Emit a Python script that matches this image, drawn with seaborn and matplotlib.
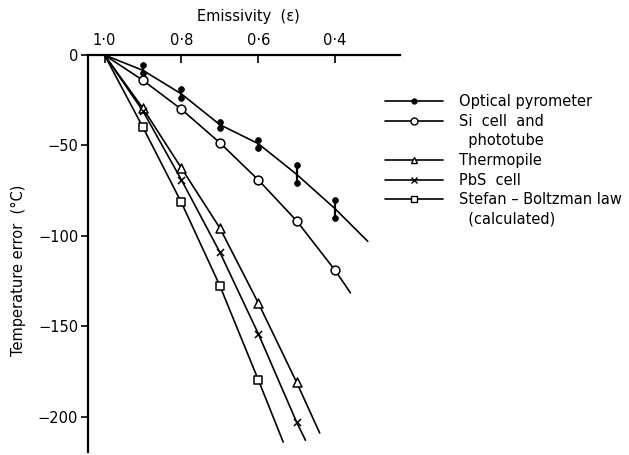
import matplotlib
matplotlib.use("Agg")
import matplotlib.pyplot as plt
import seaborn as sns
import pandas as pd
from matplotlib.lines import Line2D

# ---------------- data ----------------
# Optical pyrometer: measured ranges (pairs of dots) and fitted curve
opt_eps = [0.9, 0.8, 0.7, 0.6, 0.5, 0.4]
opt_high = [-5.5, -19, -37, -47, -61, -80]
opt_low = [-10, -24, -40.5, -51.5, -71, -90]
opt_curve_eps = [1.0, 0.9, 0.8, 0.7, 0.6, 0.5, 0.4, 0.315]
opt_curve = [0, -8.5, -21.5, -38.5, -49, -66, -85, -103]

# Si cell and phototube
si_eps = [0.9, 0.8, 0.7, 0.6, 0.5, 0.4]
si_vals = [-14, -30, -48.5, -69, -91.7, -119]
si_curve_eps = [1.0, 0.9, 0.8, 0.7, 0.6, 0.5, 0.4, 0.36]
si_curve = [0, -14, -30, -48.5, -69, -91.7, -119, -131.5]

# Thermopile
th_eps = [0.9, 0.8, 0.7, 0.6, 0.5]
th_vals = [-29.5, -62.5, -95.6, -137, -181]
th_curve_eps = [1.0, 0.9, 0.8, 0.7, 0.6, 0.5, 0.44]
th_curve = [0, -29.5, -62.5, -95.6, -137, -181, -209]

# PbS cell
pbs_eps = [0.9, 0.8, 0.7, 0.6, 0.5]
pbs_vals = [-31, -69, -109, -154, -203]
pbs_curve_eps = [1.0, 0.9, 0.8, 0.7, 0.6, 0.5, 0.477]
pbs_curve = [0, -31, -69, -109, -154, -203, -213]

# Stefan-Boltzmann law (calculated)
sb_eps = [0.9, 0.8, 0.7, 0.6]
sb_vals = [-40, -81.5, -127.5, -179.5]
sb_curve_eps = [1.0, 0.9, 0.8, 0.7, 0.6, 0.535]
sb_curve = [0, -40, -81.5, -127.5, -179.5, -214]

x_ticks = [1.0, 0.8, 0.6, 0.4]
x_tick_labels = ["1\u00b70", "0\u00b78", "0\u00b76", "0\u00b74"]
y_ticks = [0, -50, -100, -150, -200]
y_tick_labels = ["0", "\u221250", "\u2212100", "\u2212150", "\u2212200"]

# ---------------- figure ----------------
sns.set_style("ticks")
plt.rcParams["font.family"] = ["DejaVu Sans"]
plt.rcParams["text.color"] = "black"
plt.rcParams["axes.labelcolor"] = "black"

W, H = 629, 455
fig = plt.figure(figsize=(W / 100, H / 100), dpi=100)
ax = fig.add_axes([88 / W, 1 - 452 / H, (400 - 88) / W, (452 - 55) / H])

lw = 1.2
k = "black"

curves = [
    (opt_curve_eps, opt_curve),
    (si_curve_eps, si_curve),
    (th_curve_eps, th_curve),
    (pbs_curve_eps, pbs_curve),
    (sb_curve_eps, sb_curve),
]
for ce, cv in curves:
    sns.lineplot(x=ce, y=cv, ax=ax, color=k, lw=lw, estimator=None, sort=False, zorder=2)

# optical pyrometer ranges
ax.vlines(opt_eps, opt_low, opt_high, color=k, lw=1.6, zorder=3)
sns.scatterplot(x=opt_eps + opt_eps, y=opt_high + opt_low, ax=ax, marker="o", s=18,
                color=k, edgecolor=k, linewidth=0.5, zorder=4)

# other markers
sns.scatterplot(x=si_eps, y=si_vals, ax=ax, marker="o", s=40, facecolor="white",
                edgecolor=k, linewidth=1.1, zorder=4)
sns.scatterplot(x=th_eps, y=th_vals, ax=ax, marker="^", s=42, facecolor="white",
                edgecolor=k, linewidth=1.1, zorder=4)
sns.scatterplot(x=pbs_eps, y=pbs_vals, ax=ax, marker="x", s=26, color=k,
                linewidth=1.1, zorder=4)
sns.scatterplot(x=sb_eps, y=sb_vals, ax=ax, marker="s", s=40, facecolor="white",
                edgecolor=k, linewidth=1.1, zorder=4)

# axes styling
ax.set_xlim(1.043, 0.231)
ax.set_ylim(-219.5, 0)
for side in ["right", "bottom"]:
    ax.spines[side].set_visible(False)
for side in ["top", "left"]:
    ax.spines[side].set_linewidth(1.6)
    ax.spines[side].set_color(k)

ax.xaxis.tick_top()
ax.set_xticks(x_ticks)
ax.set_xticklabels(x_tick_labels)
ax.set_yticks(y_ticks)
ax.set_yticklabels(y_tick_labels)
ax.tick_params(axis="x", direction="in", length=6, width=1.2, pad=5,
               labelsize=10.5, colors=k)
ax.tick_params(axis="y", direction="out", length=5, width=1.2, pad=2,
               labelsize=10.5, colors=k)

ax.set_xlabel("Emissivity  (\u03b5)", fontsize=10.5, color=k)
ax.xaxis.set_label_position("top")
ax.xaxis.set_label_coords(0.513, 1.096)
ax.xaxis.label.set_va("center")
ax.set_ylabel("Temperature error  (\u00b0C)", fontsize=10.5, color=k)
ax.yaxis.set_label_coords(-0.224, 0.458)
ax.yaxis.label.set_va("center")

# legend
handles = [
    Line2D([], [], color=k, lw=lw, marker="o", ms=3.5, mfc=k),
    Line2D([], [], color=k, lw=lw, marker="o", ms=5, mfc="white"),
    Line2D([], [], ls="none"),
    Line2D([], [], color=k, lw=lw, marker="^", ms=5, mfc="white"),
    Line2D([], [], color=k, lw=lw, marker="x", ms=4.5),
    Line2D([], [], color=k, lw=lw, marker="s", ms=5, mfc="white"),
    Line2D([], [], ls="none"),
]
labels = [
    "Optical pyrometer",
    "Si  cell  and",
    "  phototube",
    "Thermopile",
    "PbS  cell",
    "Stefan \u2013 Boltzman law",
    "  (calculated)",
]
leg = ax.legend(handles, labels, loc="upper left", bbox_to_anchor=(385 / W, 1 - 94 / H),
                bbox_transform=fig.transFigure, frameon=False, fontsize=10.5,
                handlelength=4.0, handletextpad=1.1, labelspacing=0.32,
                borderpad=0, borderaxespad=0)
for t in leg.get_texts():
    t.set_color(k)

fig.savefig("out.png", dpi=100)
